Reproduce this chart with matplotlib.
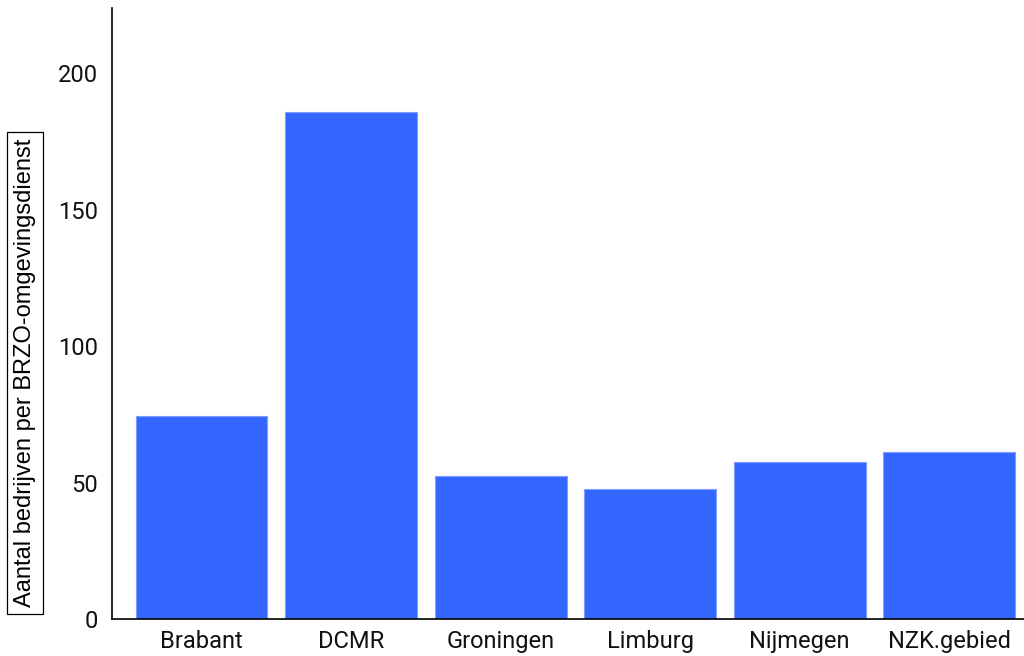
import matplotlib
matplotlib.use("Agg")
import matplotlib.pyplot as plt
import numpy as np

regios = ["Brabant", "DCMR", "Groningen", "Limburg", "Nijmegen", "NZK.gebied"]
aantal = [74.6, 186, 52.4, 47.5, 57.4, 61.4]
yticks = [0, 50, 100, 150, 200]

fig = plt.figure(figsize=(10.24, 6.56), dpi=100)
ax = fig.add_axes([112 / 1024, 37 / 656, 1 - 112 / 1024, (619 - 8) / 656])

x = np.arange(len(regios))
ax.bar(x, aantal, width=0.88, color="#3366ff", edgecolor="#7f9cff", linewidth=0.8)

ax.set_xlim(-0.6, 5.5)
ax.set_ylim(0, 224)
ax.set_xticks(x)
ax.set_xticklabels(regios, family="Roboto", fontsize=17, color="#111111")
ax.set_yticks(yticks)
ax.set_yticklabels([str(t) for t in yticks], family="Roboto", fontsize=17, color="#111111")
ax.tick_params(axis="both", length=0)
ax.tick_params(axis="y", pad=10)
ax.tick_params(axis="x", pad=8)

for side in ["top", "right"]:
    ax.spines[side].set_visible(False)
for side in ["left", "bottom"]:
    ax.spines[side].set_linewidth(1.2)

fig.text(25 / 1024, 1 - 373 / 656, "Aantal bedrijven per BRZO-omgevingsdienst",
         rotation=90, ha="center", va="center", family="Liberation Sans", fontsize=17,
         bbox=dict(boxstyle="square,pad=0.3", facecolor="white", edgecolor="black", linewidth=0.9))

fig.savefig("out.png", dpi=100)
